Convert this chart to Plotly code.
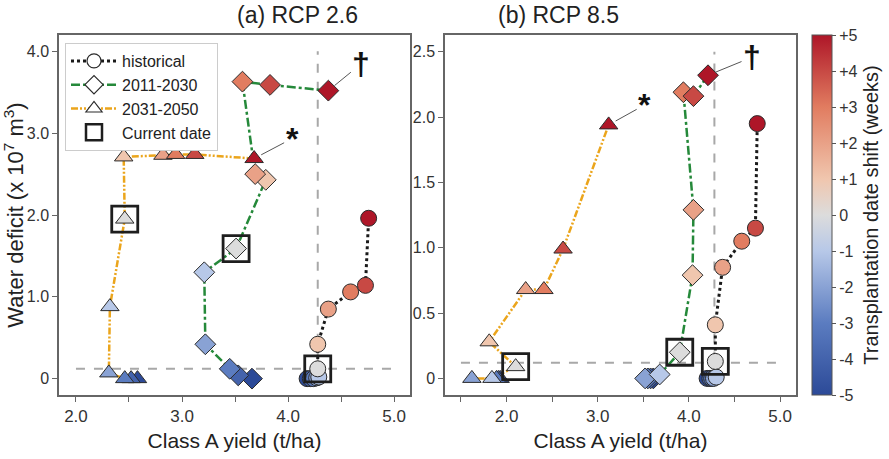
import plotly.graph_objects as go

# transplantation date shift (weeks), drawing order
shifts = [-5, -4, -3, -2, -1, 0, 1, 2, 3, 4, 5]

# (a) RCP 2.6
rcp26_hist_x = [4.18, 4.21, 4.24, 4.27, 4.29, 4.28, 4.28, 4.38, 4.59, 4.73, 4.76]
rcp26_hist_y = [0.0, 0.0, 0.0, 0.01, 0.02, 0.12, 0.42, 0.85, 1.06, 1.14, 1.96]
rcp26_p1_x = [3.66, 3.53, 3.45, 3.22, 3.21, 3.51, 3.79, 3.69, 3.57, 3.83, 4.38]
rcp26_p1_y = [0.0, 0.04, 0.12, 0.42, 1.30, 1.59, 2.43, 2.50, 3.63, 3.59, 3.52]
rcp26_p2_x = [2.58, 2.52, 2.46, 2.31, 2.32, 2.46, 2.45, 2.82, 2.94, 3.12, 3.68]
rcp26_p2_y = [0.0, 0.0, 0.0, 0.07, 0.88, 1.95, 2.71, 2.73, 2.74, 2.74, 2.69]

# (b) RCP 8.5
rcp85_hist_x = [4.20, 4.23, 4.25, 4.27, 4.30, 4.29, 4.29, 4.37, 4.58, 4.73, 4.75]
rcp85_hist_y = [0.0, 0.0, 0.0, 0.0, 0.01, 0.13, 0.41, 0.85, 1.05, 1.15, 1.95]
rcp85_p1_x = [3.61, 3.58, 3.55, 3.52, 3.68, 3.90, 4.04, 4.05, 3.94, 4.05, 4.21]
rcp85_p1_y = [0.0, 0.0, 0.0, 0.0, 0.03, 0.20, 0.79, 1.29, 2.19, 2.16, 2.32]
rcp85_p2_x = [1.93, 1.91, 1.89, 1.62, 1.84, 2.10, 1.81, 2.21, 2.41, 2.62, 3.12]
rcp85_p2_y = [0.0, 0.0, 0.0, 0.0, 0.0, 0.09, 0.28, 0.68, 0.68, 0.99, 1.94]

# current yield / deficit reference
ref_yield = [4.28, 4.28]
ref_deficit = [0.12, 0.12]

x_ticks = [1.5, 2.0, 2.5, 3.0, 3.5, 4.0, 4.5, 5.0]
x_text = ["", "2.0", "", "3.0", "", "4.0", "", "5.0"]
y26_ticks = [0, 1, 2, 3, 4]
y26_text = ["0", "1.0", "2.0", "3.0", "4.0"]
y85_ticks = [0, 0.5, 1.0, 1.5, 2.0, 2.5]
y85_text = ["0", "0.5", "1.0", "1.5", "2.0", "2.5"]
cb_ticks = [5, 4, 3, 2, 1, 0, -1, -2, -3, -4, -5]
cb_text = ["+5", "+4", "+3", "+2", "+1", "0", "-1", "-2", "-3", "-4", "-5"]

FONT = "Liberation Sans, Arial, sans-serif"
GREEN = "#25893a"
ORANGE = "#eba51c"

series = [
    ("historical", "circle", dict(color="#1a1a1a", width=3, dash="dot")),
    ("2011-2030", "diamond", dict(color=GREEN, width=2.5, dash="dashdot")),
    ("2031-2050", "triangle-up", dict(color=ORANGE, width=2.5, dash="7px,2px,2px,2px,2px,2px")),
]
sizes = {"circle": 16, "diamond": 16, "triangle-up": 16}

panels = [
    ("x", "y", [(rcp26_hist_x, rcp26_hist_y), (rcp26_p1_x, rcp26_p1_y), (rcp26_p2_x, rcp26_p2_y)]),
    ("x2", "y2", [(rcp85_hist_x, rcp85_hist_y), (rcp85_p1_x, rcp85_p1_y), (rcp85_p2_x, rcp85_p2_y)]),
]

fig = go.Figure()
i0 = shifts.index(0)

for xa, ya, data in panels:
    for (name, sym, line), (xs, ys) in zip(series, data):
        fig.add_trace(go.Scatter(x=xs, y=ys, mode="lines+markers", xaxis=xa, yaxis=ya,
                                 line=line, showlegend=False,
                                 marker=dict(symbol=sym, size=sizes[sym], color=shifts, coloraxis="coloraxis",
                                             line=dict(color="#2b2b2b", width=1))))
    # current date boxes
    fig.add_trace(go.Scatter(x=[d[0][i0] for d in data], y=[d[1][i0] for d in data],
                             mode="markers", xaxis=xa, yaxis=ya, showlegend=False,
                             marker=dict(symbol="square-open", size=26, color="#1e1e1e",
                                         line=dict(width=2.8))))

# legend entries (open markers)
for name, sym, line in series:
    fig.add_trace(go.Scatter(x=[None], y=[None], mode="lines+markers", name=name, line=line,
                             marker=dict(symbol=sym, size=14, color="white",
                                         line=dict(color="#2b2b2b", width=1.2))))
fig.add_trace(go.Scatter(x=[None], y=[None], mode="markers", name="Current date",
                         marker=dict(symbol="square-open", size=19, color="#1e1e1e",
                                     line=dict(width=2.5))))

# dashed reference lines
dash_style = dict(color="#a8a8a8", width=2, dash="dash")
for xr, yr, xlo, ytop, k in [("x", "y", 2.0, 4.0, 0), ("x2", "y2", 1.5, 2.5, 1)]:
    fig.add_shape(type="line", xref=xr, yref=yr, x0=xlo, x1=5.0, y0=ref_deficit[k], y1=ref_deficit[k],
                  line=dash_style, layer="below")
    fig.add_shape(type="line", xref=xr, yref=yr, x0=ref_yield[k], x1=ref_yield[k], y0=0, y1=ytop,
                  line=dash_style, layer="below")

# marks for the maximum shift points
marks = [
    ("x", "y", rcp26_p1_x[-1], rcp26_p1_y[-1], "†", 33, -27),
    ("x", "y", rcp26_p2_x[-1], rcp26_p2_y[-1], "*", 38, -20),
    ("x2", "y2", rcp85_p2_x[-1], rcp85_p2_y[-1], "*", 36, -20),
    ("x2", "y2", rcp85_p1_x[-1], rcp85_p1_y[-1], "†", 44, -18),
]
for xr, yr, mx, my, txt, ax, ay in marks:
    fig.add_annotation(x=mx, y=my, xref=xr, yref=yr, text="<b>" + txt + "</b>", showarrow=True,
                       arrowhead=0, arrowwidth=1, arrowcolor="#555555", ax=ax, ay=ay,
                       standoff=8, font=dict(size=32, color="#111111", family=FONT))

for xc, txt in [(0.264, "(a) RCP 2.6"), (0.698, "(b) RCP 8.5")]:
    fig.add_annotation(x=xc, y=1 - 15 / 459, xref="paper", yref="paper", yanchor="middle",
                       text=txt, showarrow=False, font=dict(size=23, color="#222222", family=FONT))

axis_style = dict(showgrid=False, zeroline=False, showline=True, mirror=True, linecolor="#666666",
                  linewidth=1.5, ticks="outside", ticklen=5, tickcolor="#666666", automargin=False)
xtick_font = dict(size=17, color="#333333")
ytick_font = dict(size=16, color="#333333")

fig.update_layout(
    width=889, height=459,
    margin=dict(l=0, r=0, t=0, b=0, autoexpand=False),
    plot_bgcolor="white", paper_bgcolor="white",
    font=dict(family=FONT, color="#222222"),
    xaxis=dict(domain=[59 / 889, 410 / 889], range=[1.84, 5.15], tickvals=x_ticks, ticktext=x_text,
               tickfont=xtick_font,
               title=dict(text="Class A yield (t/ha)", font=dict(size=21), standoff=8), anchor="y",
               **axis_style),
    yaxis=dict(domain=[64 / 459, 424 / 459], range=[-0.2, 4.2], tickvals=y26_ticks, ticktext=y26_text,
               tickfont=ytick_font,
               title=dict(text="Water deficit (x 10<sup>7</sup> m<sup>3</sup>)", font=dict(size=22),
                          standoff=4),
               anchor="x", **axis_style),
    xaxis2=dict(domain=[445 / 889, 796 / 889], range=[1.325, 5.175], tickvals=x_ticks, ticktext=x_text,
                tickfont=xtick_font,
                title=dict(text="Class A yield (t/ha)", font=dict(size=21), standoff=8), anchor="y2",
                **axis_style),
    yaxis2=dict(domain=[64 / 459, 424 / 459], range=[-0.127, 2.628], tickvals=y85_ticks,
                ticktext=y85_text, tickfont=ytick_font, anchor="x2", **axis_style),
    coloraxis=dict(
        cmin=-5, cmax=5,
        colorscale=[[0, "#2c4a98"], [0.2, "#5b7cc0"], [0.4, "#b7c8e8"], [0.5, "#dcdcdc"],
                    [0.6, "#f0c6ae"], [0.8, "#e17c60"], [1, "#ae1628"]],
        colorbar=dict(x=812 / 889, xanchor="left", xpad=0, ypad=0, y=64 / 459, yanchor="bottom",
                      len=360 / 459, thickness=20, tickvals=cb_ticks, ticktext=cb_text,
                      ticks="outside", ticklen=4,
                      tickcolor="#555555", outlinecolor="#555555", outlinewidth=1,
                      tickfont=dict(size=16, color="#333333"),
                      title=dict(text="Transplantation date shift (weeks)", side="right",
                                 font=dict(size=20, color="#222222"))),
    ),
    legend=dict(x=65 / 889, y=1 - 43 / 459, xanchor="left", yanchor="top", bgcolor="white",
                bordercolor="#cccccc", borderwidth=1, font=dict(size=16, color="#222222"),
                tracegroupgap=0, itemwidth=46),
)

fig.write_html("out.html", config={"displayModeBar": False},
               post_script="document.body.style.margin='0px';")
